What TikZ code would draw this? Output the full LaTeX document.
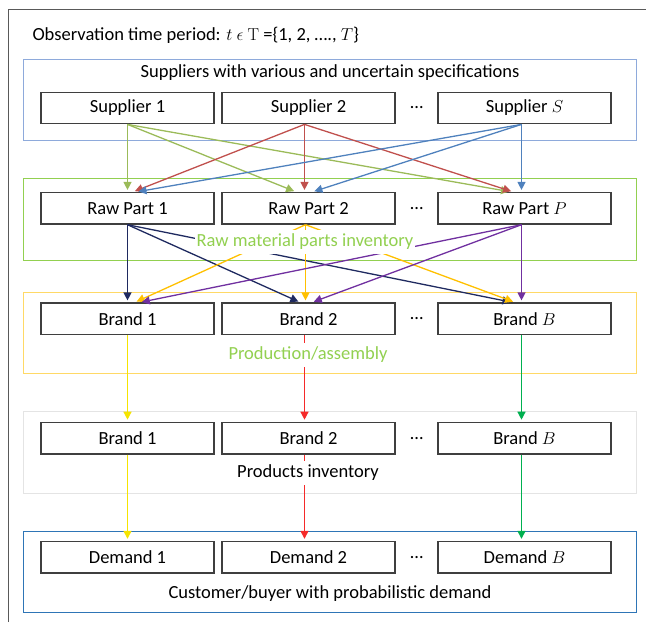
\documentclass[tikz,border=0pt]{standalone}
\usepackage[no-math]{fontspec}
\setmainfont{Carlito}
\usepackage{tikz}
\usetikzlibrary{arrows.meta,positioning}

\definecolor{framegray}{HTML}{595959}
\definecolor{boxgray}{HTML}{3F3F3F}
\definecolor{supblue}{HTML}{8EAADB}
\definecolor{rawgreen}{HTML}{92D050}
\definecolor{prodyellow}{HTML}{FFD966}
\definecolor{invgray}{HTML}{E4E4E4}
\definecolor{custblue}{HTML}{2E75B6}
\definecolor{sgreen}{HTML}{9BBB59}
\definecolor{sred}{HTML}{C0504D}
\definecolor{sblue}{HTML}{4F81BD}
\definecolor{rnavy}{HTML}{1F2A60}
\definecolor{rorange}{HTML}{FFC000}
\definecolor{rpurple}{HTML}{7030A0}
\definecolor{byellow}{HTML}{F5E400}
\definecolor{bred}{HTML}{F52A2A}
\definecolor{bgreen}{HTML}{00B050}

\begin{document}
\begin{tikzpicture}[
        x=1pt, y=-1pt,
        every node/.style={font=\fontsize{18.5}{22}\selectfont, color=black},
        box/.style={draw=boxgray, fill=white, line width=1.3pt, minimum width=173pt, minimum height=31.5pt, inner sep=0pt},
        group/.style={line width=1.2pt},
        pile/.style={line width=1.3pt, -{Triangle[length=8pt,width=8pt]}, shorten >=2pt},
        grouplabel/.style={fill=white, inner xsep=2pt, inner ysep=4pt}
    ]
    \useasboundingbox (0,0) rectangle (646,622);
    % frame
    \draw[framegray, line width=1.3pt] (8.5,622) -- (8.5,9.5) -- (646,9.5);
    \node[anchor=west, inner sep=0pt] (title) at (32.3,35)
        {Observation time period: $t$ $\epsilon$ $\mathrm{T}$ =\{1, 2, …., $T$\}};
    % stages
    \draw[group, supblue] (23.5,59.5) rectangle (636.5,140.5);
    \draw[group, rawgreen] (23.5,178.5) rectangle (636.5,260.5);
    \draw[group, prodyellow] (23.5,292.5) rectangle (636.5,373.5);
    \draw[group, invgray] (23.5,411.5) rectangle (636.5,493.5);
    \draw[group, custblue] (23.5,531.5) rectangle (636.5,612.5);
    % suppliers
    \node[box] (s1) at (127.5,108) {Supplier 1};
    \node[box] (s2) at (308.5,108) {Supplier 2};
    \node (sdots) at (416.7,108) {…};
    \node[box] (s3) at (524.5,108) {Supplier $S$};
    % raw parts
    \node[box] (r1) at (127.5,208.3) {Raw Part 1};
    \node[box] (r2) at (308.5,208.3) {Raw Part 2};
    \node (rdots) at (416.7,208.3) {…};
    \node[box] (r3) at (524.5,208.3) {Raw Part $P$};
    % brands
    \node[box] (b1) at (127.5,318.8) {Brand 1};
    \node[box] (b2) at (308.5,318.8) {Brand 2};
    \node (bdots) at (416.7,318.8) {…};
    \node[box] (b3) at (524.5,318.8) {Brand $B$};
    % products
    \node[box] (p1) at (127.5,438.1) {Brand 1};
    \node[box] (p2) at (308.5,438.1) {Brand 2};
    \node (pdots) at (416.7,438.1) {…};
    \node[box] (p3) at (524.5,438.1) {Brand $B$};
    % demand
    \node[box] (d1) at (127.5,557.2) {Demand 1};
    \node[box] (d2) at (308.5,557.2) {Demand 2};
    \node (ddots) at (416.7,557.2) {…};
    \node[box] (d3) at (524.5,557.2) {Demand $B$};
    % suppliers to raw parts
    \draw[pile, sgreen] (s1.south) -- (r1.north);
    \draw[pile, sgreen] (s1.south) -- ([xshift=-12.5pt]r2.north);
    \draw[pile, sgreen] (s1.south) -- ([xshift=-13.5pt]r3.north);
    \draw[pile, sred] ([xshift=-4pt]s2.south) -- ([xshift=5.5pt]r1.north);
    \draw[pile, sred] ([xshift=-4pt]s2.south) -- ([xshift=-4pt]r2.north);
    \draw[pile, sred] ([xshift=-4pt]s2.south) -- ([xshift=-11.5pt]r3.north);
    \draw[pile, sblue] ([xshift=-3pt]s3.south) -- ([xshift=9pt]r1.north);
    \draw[pile, sblue] ([xshift=-3pt]s3.south) -- ([xshift=4pt]r2.north);
    \draw[pile, sblue] ([xshift=-3pt]s3.south) -- ([xshift=-3pt]r3.north);
    % raw parts to brands
    \draw[pile, rnavy] (r1.south) -- (b1.north);
    \draw[pile, rnavy] (r1.south) -- ([xshift=-8.3pt]b2.north);
    \draw[pile, rnavy] (r1.south) -- ([xshift=-12pt]b3.north);
    \draw[pile, rorange] ([xshift=-3pt]r2.south) -- ([xshift=7.3pt]b1.north);
    \draw[pile, rorange] ([xshift=-3pt]r2.south) -- ([xshift=-3pt]b2.north);
    \draw[pile, rorange] ([xshift=-3pt]r2.south) -- ([xshift=-9.5pt]b3.north);
    \draw[pile, rpurple] ([xshift=-3pt]r3.south) -- ([xshift=12.3pt]b1.north);
    \draw[pile, rpurple] ([xshift=-3pt]r3.south) -- ([xshift=3.4pt]b2.north);
    \draw[pile, rpurple] ([xshift=-3pt]r3.south) -- ([xshift=-3pt]b3.north);
    % brands to products to demand
    \draw[pile, byellow] (b1.south) -- (p1.north);
    \draw[pile, bred] ([xshift=-4pt]b2.south) -- ([xshift=-4pt]p2.north);
    \draw[pile, bgreen] ([xshift=-3pt]b3.south) -- ([xshift=-3pt]p3.north);
    \draw[pile, byellow] (p1.south) -- (d1.north);
    \draw[pile, bred] ([xshift=-4pt]p2.south) -- ([xshift=-4pt]d2.north);
    \draw[pile, bgreen] ([xshift=-3pt]p3.south) -- ([xshift=-3pt]d3.north);
    % stage labels
    \node (suplabel) at (330,73) {Suppliers with various and uncertain specifications};
    \node[grouplabel, text=rawgreen] (rawlabel) at (305,242) {Raw material parts inventory};
    \node[grouplabel, text=rawgreen] (prodlabel) at (308,355) {Production/assembly};
    \node[grouplabel] (invlabel) at (308,473) {Products inventory};
    \node (custlabel) at (330,594) {Customer/buyer with probabilistic demand};
\end{tikzpicture}
\end{document}
